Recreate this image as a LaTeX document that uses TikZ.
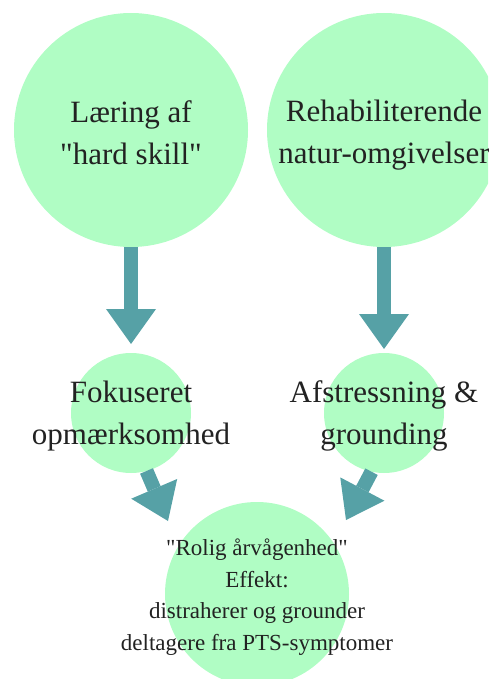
\documentclass[tikz,border=0pt]{standalone}
\usepackage{fontspec}
\setmainfont{Liberation Serif}[Ligatures=TeXOff]
\usetikzlibrary{arrows.meta,positioning}
\definecolor{mint}{HTML}{B0FDC4}
\definecolor{tealarrow}{HTML}{56A1A6}
\definecolor{ink}{HTML}{222222}

\begin{document}
\begin{tikzpicture}[x=1pt,y=1pt,
    bubble/.style={circle, fill=mint, inner sep=0pt, outer sep=0pt},
    words/.style={text=ink, align=center, inner sep=0pt, yshift=-3pt},
    big/.style={words, font=\fontsize{31}{42}\selectfont},
    small/.style={words, font=\fontsize{23}{31.7}\selectfont},
    flow/.style={draw=tealarrow, line width=14pt, -{Triangle[width=50pt,length=35pt,line width=0pt]}}]

    \useasboundingbox (0,0) rectangle (488,-679);
    \clip (0,0) rectangle (488,-679);

    \node[bubble, minimum size=234pt] (learn) at (131,-130) {};
    \node[bubble, minimum size=234pt] (nature) at (384,-130) {};
    \node[bubble, minimum size=120pt] (focus) at (131,-413) {};
    \node[bubble, minimum size=120pt] (destress) at (384,-413) {};
    \node[bubble, minimum size=184pt] (calm) at (257,-594) {};

    \node[big] (learntext) at (learn) {L\ae ring af\\"hard skill"};
    \node[big, yshift=-2.5pt] (naturetext) at (nature) {Rehabiliterende\\natur-omgivelser};
    \node[big] (focustext) at (focus) {Fokuseret\\opm\ae rksomhed};
    \node[big] (destresstext) at (destress) {Afstressning \&\\grounding};
    \node[small] (calmtext) at (calm)
        {"Rolig årvågenhed"\\Effekt:\\distraherer og grounder\\deltagere fra PTS-symptomer};

    \coordinate (focustip) at (168,-521);
    \coordinate (destresstip) at (346,-520);

    \draw[flow, shorten >=9pt] (learn) -- (focus); %
    \draw[flow, shorten >=4pt] (nature) -- (destress); %
    \draw[flow] (focus.285) -- (focustip); %
    \draw[flow] (destress.258) -- (destresstip); %

\end{tikzpicture}
\end{document}
